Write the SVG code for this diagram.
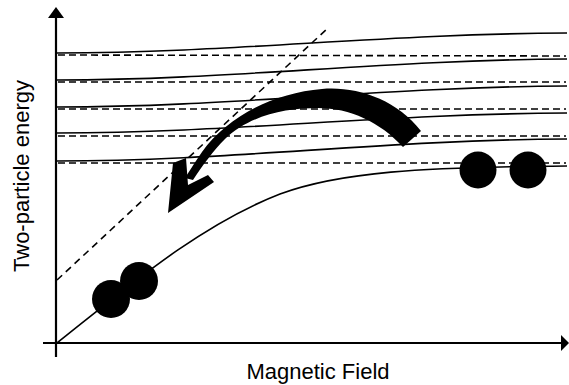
<svg xmlns="http://www.w3.org/2000/svg" width="569" height="385" viewBox="0 0 569 385">
<defs>
<style>
.axis{stroke:#000;stroke-width:2.2;fill:none}
.solid{stroke:#000;stroke-width:1.6;fill:none}
.dash{stroke:#000;stroke-width:1.6;fill:none;stroke-dasharray:7 4}
.ddiag{stroke:#000;stroke-width:1.6;fill:none;stroke-dasharray:7 5}
.blob{fill:#000}
.lbl{font-family:"Liberation Sans",Arial,sans-serif;font-size:22px;fill:#000}
</style>
</defs>
<rect width="569" height="385" fill="#fff"/>
<g id="axes">
<line class="axis" x1="56" y1="357" x2="56" y2="12"/>
<polygon points="56,7 48,18 64,18" fill="#000"/>
<line class="axis" x1="43" y1="343" x2="564" y2="343"/>
<polygon points="569,343 561,335 561,351" fill="#000"/>
</g>
<g id="levels">
<path class="solid" d="M57,53 C230,53 380,34 567,33"/>
<path class="solid" d="M57,80 C230,80 380,60 567,59"/>
<path class="solid" d="M57,107 C230,107 380,87 567,86"/>
<path class="solid" d="M57,133 C230,133 380,114 567,113"/>
<path class="solid" d="M57,161 C230,161 380,140 567,139"/>
<path class="solid" d="M57,343 C130,285 200,225 280,194 C340,172 420,167 567,166"/>
</g>
<g id="unperturbed">
<line class="dash" x1="58" y1="55" x2="566" y2="56"/>
<line class="dash" x1="58" y1="82" x2="566" y2="82"/>
<line class="dash" x1="58" y1="109" x2="566" y2="109"/>
<line class="dash" x1="58" y1="136" x2="566" y2="136"/>
<line class="dash" x1="58" y1="163" x2="566" y2="163"/>
<line class="ddiag" x1="57" y1="280" x2="329" y2="27"/>
</g>
<g id="arrow">
<path class="blob" d="M421,131 C396,99 356,86 322,89 C274,93 228,116 202,152 C195,162 189,172 185,178 L193,180 C202,166 214,150 225,139 C250,115 286,108 318,108 C350,108 380,122 403,147 Z"/>
<polygon class="blob" points="168,213 173,163 186,158 188,185 208,175 214,182"/>
</g>
<g id="molecule">
<circle class="blob" cx="111" cy="299" r="19"/>
<circle class="blob" cx="139" cy="281" r="19"/>
</g>
<g id="atoms">
<circle class="blob" cx="478" cy="170" r="18.5"/>
<circle class="blob" cx="528" cy="170" r="18.5"/>
</g>
<g id="labels">
<text class="lbl" transform="translate(29,176) rotate(-90)" text-anchor="middle">Two-particle energy</text>
<text class="lbl" x="318" y="379" text-anchor="middle">Magnetic Field</text>
</g>
</svg>
